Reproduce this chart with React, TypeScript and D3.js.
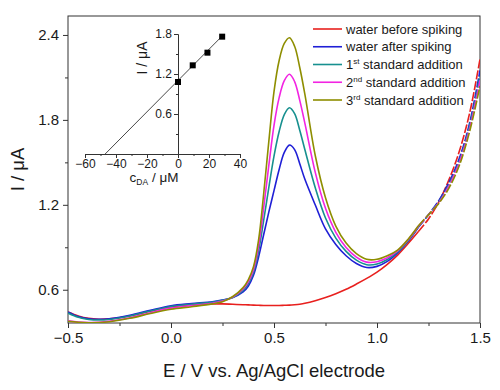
import * as d3 from 'd3'
import React, { useRef, useEffect } from 'react'

// potential, V vs Ag/AgCl
const potential = [
  -0.5, -0.45, -0.4, -0.35, -0.3, -0.2, -0.1, 0.0, 0.1, 0.2, 0.25, 0.3, 0.35, 0.375, 0.4, 0.425, 0.45, 0.475, 0.5,
  0.525, 0.55, 0.575, 0.6, 0.625, 0.65, 0.7, 0.75, 0.8, 0.85, 0.9, 0.95, 1.0, 1.05, 1.1, 1.15, 1.2, 1.25, 1.3, 1.35,
  1.4, 1.45, 1.5,
]

// current, uA
const waterBefore = [
  0.443, 0.415, 0.398, 0.392, 0.395, 0.415, 0.448, 0.478, 0.495, 0.5, 0.5, 0.497, 0.494, 0.493, 0.491, 0.49, 0.489,
  0.489, 0.489, 0.489, 0.49, 0.491, 0.494, 0.498, 0.504, 0.522, 0.545, 0.572, 0.603, 0.64, 0.68, 0.725, 0.78, 0.845,
  0.925, 1.01, 1.1, 1.22, 1.38, 1.58, 1.85, 2.23,
]
const waterAfter = [
  0.443, 0.41, 0.395, 0.391, 0.395, 0.42, 0.455, 0.487, 0.502, 0.515, 0.528, 0.545, 0.585, 0.625, 0.7, 0.83, 0.99,
  1.15, 1.3, 1.45, 1.57, 1.622, 1.59, 1.49, 1.38, 1.2, 1.03, 0.92, 0.84, 0.785, 0.757, 0.765, 0.8, 0.86, 0.94, 1.04,
  1.13, 1.23, 1.36, 1.53, 1.78, 2.15,
]
const addition1 = [
  0.435, 0.405, 0.39, 0.386, 0.39, 0.415, 0.45, 0.482, 0.498, 0.512, 0.525, 0.545, 0.595, 0.641, 0.721, 0.872, 1.091,
  1.324, 1.544, 1.718, 1.838, 1.886, 1.844, 1.727, 1.589, 1.322, 1.107, 0.965, 0.871, 0.809, 0.777, 0.782, 0.814,
  0.867, 0.945, 1.043, 1.13, 1.22, 1.345, 1.51, 1.76, 2.11,
]
const addition2 = [
  0.38, 0.372, 0.369, 0.37, 0.377, 0.402, 0.438, 0.47, 0.488, 0.505, 0.52, 0.548, 0.605, 0.655, 0.74, 0.909, 1.181,
  1.48, 1.761, 1.957, 2.077, 2.122, 2.071, 1.938, 1.775, 1.431, 1.175, 1.006, 0.899, 0.831, 0.795, 0.798, 0.826, 0.874,
  0.951, 1.047, 1.13, 1.215, 1.335, 1.5, 1.74, 2.08,
]
const addition3 = [
  0.377, 0.37, 0.367, 0.368, 0.374, 0.398, 0.432, 0.462, 0.48, 0.5, 0.515, 0.552, 0.615, 0.67, 0.76, 0.95, 1.28, 1.65,
  2.0, 2.22, 2.34, 2.38, 2.32, 2.17, 1.98, 1.55, 1.25, 1.05, 0.93, 0.855, 0.815, 0.815, 0.84, 0.88, 0.955, 1.05, 1.13,
  1.21, 1.32, 1.48, 1.72, 2.04,
]

const seriesColors = ['#e8201e', '#1f1fd6', '#17908f', '#f224e2', '#8e8e00']
const legendMain = ['water before spiking', 'water after spiking', '1', '2', '3']
const legendSup = ['', '', 'st', 'nd', 'rd']
const legendRest = ['', '', ' standard addition', ' standard addition', ' standard addition']

const xTicks = [-0.5, 0.0, 0.5, 1.0, 1.5]
const xMinor = [-0.25, 0.25, 0.75, 1.25]
const yTicks = [0.6, 1.2, 1.8, 2.4]
const yMinor = [0.9, 1.5, 2.1]

// inset: standard addition plot
const concAdded = [0, 9.5, 19, 28.5]
const peakCurrent = [1.08, 1.33, 1.52, 1.76]
const fitConc = [-47, 28.5]
const fitCurrent = [0, 1.77]
const insetXTicks = [-60, -40, -20, 0, 20, 40]
const insetXMinor = [-50, -30, -10, 10, 30]
const insetYTicks = [0.6, 1.2, 1.8]
const insetYMinor = [0.3, 0.9, 1.5]

const FONT = "Arial, 'Liberation Sans', sans-serif"

const App = () => {
  const ref = useRef(null)

  useEffect(() => {
    draw()
  }, [])

  const draw = () => {
    const svg = d3.select(ref.current)
    svg.selectAll('*').remove()

    const left = 68
    const right = 480
    const top = 16
    const bottom = 323

    const x = d3.scaleLinear().domain([-0.5, 1.5]).range([left, right])
    const y = d3.scaleLinear().domain([0.365, 2.534]).range([bottom, top])

    svg
      .append('defs')
      .append('clipPath')
      .attr('id', 'plotclip')
      .append('rect')
      .attr('x', left)
      .attr('y', top)
      .attr('width', right - left)
      .attr('height', bottom - top)

    const styleAxis = (g: any, size: number) => {
      g.select('.domain').remove()
      g.selectAll('line').attr('stroke', '#333')
      g.selectAll('text').attr('font-family', FONT).attr('font-size', size).attr('fill', '#1a1a1a')
    }

    // main axes
    svg
      .append('g')
      .attr('transform', `translate(0,${bottom})`)
      .call(d3.axisBottom(x).tickValues(xTicks).tickSize(5).tickPadding(4).tickFormat(d3.format('.1f')))
      .call((g: any) => styleAxis(g, 15))
    svg
      .append('g')
      .attr('transform', `translate(0,${bottom})`)
      .call(d3.axisBottom(x).tickValues(xMinor).tickSize(3).tickFormat(() => ''))
      .call((g: any) => styleAxis(g, 15))
    svg
      .append('g')
      .attr('transform', `translate(${left},0)`)
      .call(d3.axisLeft(y).tickValues(yTicks).tickSize(5).tickPadding(4).tickFormat(d3.format('.1f')))
      .call((g: any) => styleAxis(g, 15))
    svg
      .append('g')
      .attr('transform', `translate(${left},0)`)
      .call(d3.axisLeft(y).tickValues(yMinor).tickSize(3).tickFormat(() => ''))
      .call((g: any) => styleAxis(g, 15))

    svg
      .append('rect')
      .attr('x', left)
      .attr('y', top)
      .attr('width', right - left)
      .attr('height', bottom - top)
      .attr('fill', 'none')
      .attr('stroke', '#333')
      .attr('stroke-width', 1)

    // curves, solid up to 1.2 V and broken beyond like the original export
    const curves = svg.append('g').attr('clip-path', 'url(#plotclip)')
    const split = potential.indexOf(1.2)
    const allSeries = [waterBefore, waterAfter, addition1, addition2, addition3]
    allSeries.forEach((s, k) => {
      const head = d3
        .line<number>()
        .x((d, i) => x(potential[i]))
        .y((d) => y(d))
        .curve(d3.curveCatmullRom.alpha(0.5))
      const tail = d3
        .line<number>()
        .x((d, i) => x(potential[split + i]))
        .y((d) => y(d))
        .curve(d3.curveCatmullRom.alpha(0.5))
      curves
        .append('path')
        .attr('d', head(s.slice(0, split + 1)))
        .attr('fill', 'none')
        .attr('stroke', seriesColors[k])
        .attr('stroke-width', 1.6)
      curves
        .append('path')
        .attr('d', tail(s.slice(split)))
        .attr('fill', 'none')
        .attr('stroke', seriesColors[k])
        .attr('stroke-width', 1.6)
        .attr('stroke-dasharray', '9,2')
    })

    // axis titles
    svg
      .append('text')
      .attr('x', (left + right) / 2)
      .attr('y', 377)
      .attr('text-anchor', 'middle')
      .attr('font-family', FONT)
      .attr('font-size', 18.5)
      .attr('fill', '#1a1a1a')
      .text('E / V vs. Ag/AgCl electrode')
    svg
      .append('text')
      .attr('transform', `translate(24,${(top + bottom) / 2}) rotate(-90)`)
      .attr('text-anchor', 'middle')
      .attr('font-family', FONT)
      .attr('font-size', 18.5)
      .attr('fill', '#1a1a1a')
      .text('I / μA')

    // legend
    const legend = svg.append('g')
    legendMain.forEach((label, k) => {
      const ly = 29 + k * 17.75
      legend
        .append('line')
        .attr('x1', 313)
        .attr('x2', 342)
        .attr('y1', ly)
        .attr('y2', ly)
        .attr('stroke', seriesColors[k])
        .attr('stroke-width', 1.6)
      const t = legend
        .append('text')
        .attr('x', 346)
        .attr('y', ly + 4.5)
        .attr('font-family', FONT)
        .attr('font-size', 13)
        .attr('fill', '#1a1a1a')
      t.append('tspan').text(label)
      if (legendSup[k]) {
        t.append('tspan').attr('font-size', 8).attr('dy', -5).text(legendSup[k])
        t.append('tspan').attr('dy', 5).text(legendRest[k])
      }
    })

    // inset
    const ix = d3.scaleLinear().domain([-60, 40]).range([85, 240])
    const iy = d3.scaleLinear().domain([0, 1.8]).range([154, 34])
    const inset = svg.append('g')

    const styleInset = (g: any) => {
      g.selectAll('.domain').attr('stroke', '#333')
      g.selectAll('line').attr('stroke', '#333')
      g.selectAll('text').attr('font-family', FONT).attr('font-size', 12).attr('fill', '#1a1a1a')
    }
    inset
      .append('g')
      .attr('transform', `translate(0,${iy(0)})`)
      .call(d3.axisBottom(ix).tickValues(insetXTicks).tickSize(4).tickSizeOuter(0).tickPadding(1))
      .call(styleInset)
    inset
      .append('g')
      .attr('transform', `translate(0,${iy(0)})`)
      .call(d3.axisBottom(ix).tickValues(insetXMinor).tickSize(2).tickSizeOuter(0).tickFormat(() => ''))
      .call(styleInset)
    inset
      .append('g')
      .attr('transform', `translate(${ix(0)},0)`)
      .call(d3.axisLeft(iy).tickValues(insetYTicks).tickSize(4).tickSizeOuter(0).tickPadding(2).tickFormat(d3.format('.1f')))
      .call(styleInset)
    inset
      .append('g')
      .attr('transform', `translate(${ix(0)},0)`)
      .call(d3.axisLeft(iy).tickValues(insetYMinor).tickSize(2).tickSizeOuter(0).tickFormat(() => ''))
      .call(styleInset)

    inset
      .append('path')
      .datum(fitConc.map((c, i) => [c, fitCurrent[i]] as [number, number]))
      .attr(
        'd',
        d3
          .line<[number, number]>()
          .x((d) => ix(d[0]))
          .y((d) => iy(d[1]))
      )
      .attr('fill', 'none')
      .attr('stroke', '#333')
      .attr('stroke-width', 0.9)

    inset
      .selectAll('rect.pt')
      .data(concAdded)
      .enter()
      .append('rect')
      .attr('class', 'pt')
      .attr('x', (d) => ix(d) - 3)
      .attr('y', (d, i) => iy(peakCurrent[i]) - 3)
      .attr('width', 6)
      .attr('height', 6)
      .attr('fill', '#000')

    inset
      .append('text')
      .attr('transform', `translate(147,58) rotate(-90)`)
      .attr('text-anchor', 'middle')
      .attr('font-family', FONT)
      .attr('font-size', 14)
      .attr('fill', '#1a1a1a')
      .text('I / μA')

    const xl = inset
      .append('text')
      .attr('x', 154)
      .attr('y', 182)
      .attr('text-anchor', 'middle')
      .attr('font-family', FONT)
      .attr('font-size', 13.5)
      .attr('fill', '#1a1a1a')
    xl.append('tspan').text('c')
    xl.append('tspan').attr('font-size', 8.5).attr('dy', 3).text('DA')
    xl.append('tspan').attr('dy', -3).text(' / μM')
  }

  return (
    <svg
      ref={ref}
      width={500}
      height={390}
      style={{ position: 'absolute', left: 0, top: 0, background: '#fff' }}
    />
  )
}

export default App
